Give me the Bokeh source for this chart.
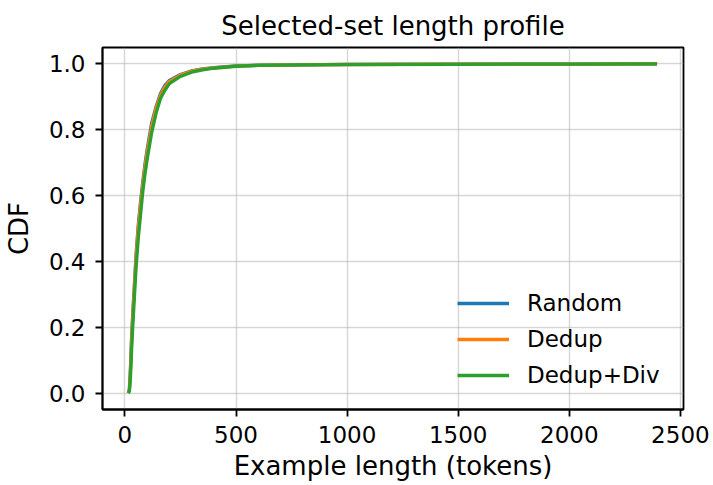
from bokeh.plotting import figure
from bokeh.models import Range1d, Legend, LegendItem, FixedTicker
from bokeh.embed import file_html
from bokeh.resources import INLINE

# ---- data ----
random_x = [15, 20, 25, 30, 35, 40, 50, 60, 70, 80, 90, 100, 120, 140, 160, 180, 200, 250, 300, 350, 400, 500, 600, 800, 1000, 1500, 2000, 2395]
random_y = [0.0, 0.012, 0.08, 0.17, 0.24, 0.30, 0.42, 0.51, 0.58, 0.64, 0.695, 0.74, 0.82, 0.87, 0.91, 0.935, 0.95, 0.968, 0.979, 0.985, 0.989, 0.994, 0.996, 0.9975, 0.9985, 0.9993, 0.9997, 1.0]

dedup_x = [15, 20, 25, 30, 35, 40, 50, 60, 70, 80, 90, 100, 120, 140, 160, 180, 200, 250, 300, 350, 400, 500, 600, 800, 1000, 1500, 2000, 2395]
dedup_y = [0.0, 0.010, 0.07, 0.16, 0.23, 0.29, 0.41, 0.50, 0.57, 0.63, 0.685, 0.73, 0.81, 0.865, 0.905, 0.93, 0.947, 0.966, 0.978, 0.984, 0.988, 0.9935, 0.9958, 0.9974, 0.9984, 0.9992, 0.9996, 1.0]

div_x = [15, 20, 25, 30, 35, 40, 50, 60, 70, 80, 90, 100, 120, 140, 160, 180, 200, 250, 300, 350, 400, 500, 600, 800, 1000, 1500, 2000, 2395]
div_y = [0.0, 0.005, 0.05, 0.13, 0.20, 0.26, 0.38, 0.47, 0.54, 0.61, 0.665, 0.71, 0.79, 0.85, 0.895, 0.92, 0.94, 0.962, 0.975, 0.982, 0.987, 0.993, 0.9955, 0.9972, 0.9982, 0.999, 0.9995, 1.0]

series_names = ["Random", "Dedup", "Dedup+Div"]
series_colors = ["#1f77b4", "#ff7f0e", "#2ca02c"]

x_ticks = [0, 500, 1000, 1500, 2000, 2500]
y_ticks = [0.0, 0.2, 0.4, 0.6, 0.8, 1.0]

FONT = "DejaVu Sans"

p = figure(width=713, height=485, output_backend="svg", toolbar_location=None,
           x_range=Range1d(-101, 2514), y_range=Range1d(-0.05, 1.05),
           min_border_left=102, min_border_right=30, min_border_top=47, min_border_bottom=76,
           title="Selected-set length profile")

p.title.text_font = FONT
p.title.text_font_size = "26px"
p.title.text_font_style = "normal"
p.title.align = "center"
p.title.text_color = "black"
p.title.standoff = 14

p.outline_line_color = "black"
p.outline_line_width = 1.8
p.background_fill_color = "white"
p.border_fill_color = "white"

for ax in (p.xaxis[0], p.yaxis[0]):
    ax.axis_line_color = "black"
    ax.axis_line_width = 1.8
    ax.major_tick_line_color = "black"
    ax.major_tick_line_width = 1.8
    ax.major_tick_out = 7
    ax.major_tick_in = 0
    ax.minor_tick_line_color = None
    ax.major_label_text_font = FONT
    ax.major_label_text_font_size = "23px"
    ax.major_label_text_color = "black"
    ax.axis_label_text_font = FONT
    ax.axis_label_text_font_size = "26px"
    ax.axis_label_text_font_style = "normal"
    ax.axis_label_text_color = "black"

p.xaxis.ticker = FixedTicker(ticks=x_ticks)
p.yaxis.ticker = FixedTicker(ticks=y_ticks)
p.yaxis.major_label_overrides = {v: f"{v:.1f}" for v in y_ticks}
p.xaxis.axis_label = "Example length (tokens)"
p.yaxis.axis_label = "CDF"
p.xaxis.major_label_standoff = 9
p.yaxis.major_label_standoff = 10
p.xaxis.axis_label_standoff = 5
p.yaxis.axis_label_standoff = 12

p.grid.grid_line_color = "#b0b0b0"
p.grid.grid_line_alpha = 0.5
p.grid.grid_line_width = 1.4

items = []
for xs, ys, name, col in zip([random_x, dedup_x, div_x], [random_y, dedup_y, div_y], series_names, series_colors):
    r = p.line(xs, ys, line_color=col, line_width=3.3)
    items.append(LegendItem(label=name, renderers=[r]))

legend = Legend(items=items, location=(355, 21))
legend.background_fill_alpha = 0
legend.border_line_color = None
legend.padding = 0
legend.margin = 0
legend.spacing = 10
legend.glyph_width = 52
legend.glyph_height = 24
legend.label_height = 24
legend.label_standoff = 18
legend.label_text_font = FONT
legend.label_text_font_size = "23px"
legend.label_text_color = "black"
legend.label_text_baseline = "middle"
p.add_layout(legend, "center")

open("out.html", "w").write(file_html(p, INLINE))
